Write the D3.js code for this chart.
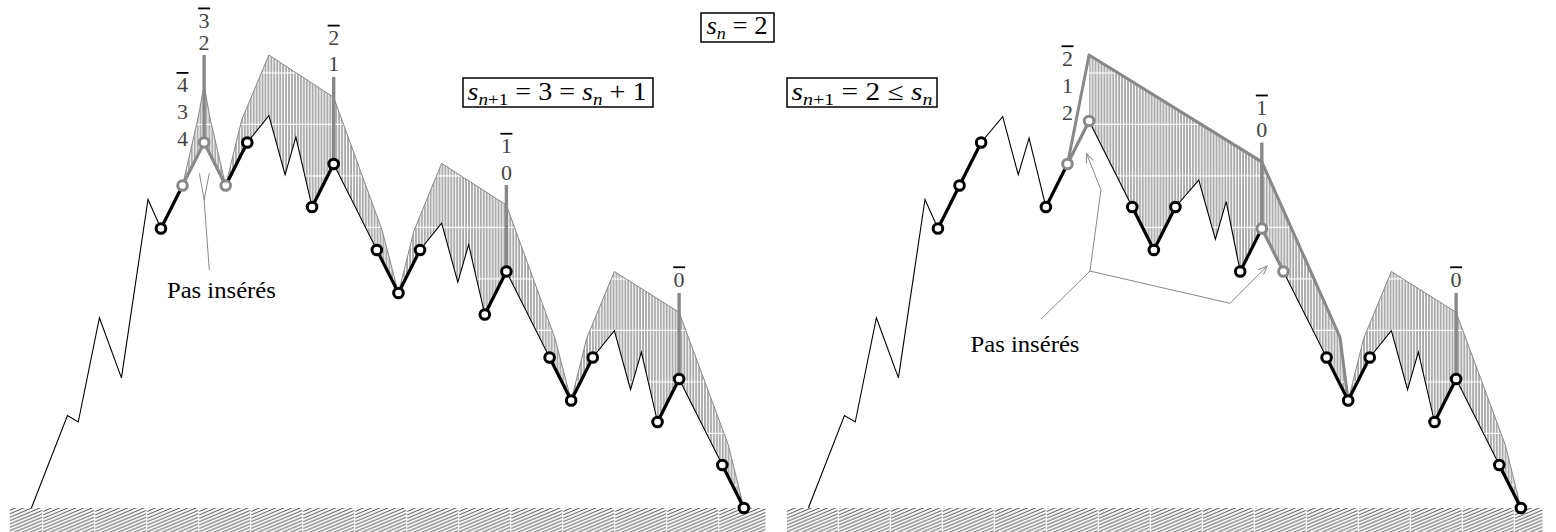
<!DOCTYPE html>
<html>
<head>
<meta charset="utf-8">
<script src="https://cdn.jsdelivr.net/npm/d3@7"></script>
<style>
  body { margin: 0; background: #fff; }
  svg { display: block; }
  svg text { font-family: "Liberation Serif", Tinos, "Times New Roman", "DejaVu Serif", serif; }
</style>
</head>
<body>
<div id="container"></div>
<script>
/* DATA : x in steps, y in levels above the floor */

// left panel : s_{n+1} = s_n + 1
const leftPath = [[0,0],[1.67,4.3],[2.17,4.0],[3.15,8.85],[4.17,6.05],[5.4,14.35],[6,13],[7,15],[8,17],[9,15],[10,17],
  [11,18.25],[11.75,15.5],[12.25,17.25],[13,14],[14,16],[16,12],[17,10],[18,12],[19,13.25],[19.75,10.5],[20.25,12.25],
  [21,9],[22,11],[24,7],[25,5],[26,7],[27,8.25],[27.75,5.5],[28.25,7.25],[29,4],[30,6],[32,2],[33,0]];
const leftEnvelope = [[7,15],[7.72,18.14],[8,19.67],[8.27,18.14],[9,15],[9.74,18.05],[11,21.07],[14,19.1],[16.25,12.9],
  [17,10],[17.72,12.9],[19,16.03],[22,14.09],[24.25,7.9],[25,5],[25.72,7.9],[27,11],[30,9.1],[32.28,2.93],[33,0]];
const leftBlackSteps = [[[6,13],[7,15]],[[9,15],[10,17]],[[13,14],[14,16]],[[16,12],[17,10],[18,12]],[[21,9],[22,11]],
  [[24,7],[25,5],[26,7]],[[29,4],[30,6]],[[32,2],[33,0]]];
const leftGreySteps = [[[7,15],[8,17],[9,15]]];
const leftBlackNodes = [[6,13],[10,17],[13,14],[14,16],[16,12],[17,10],[18,12],[21,9],[22,11],[24,7],[25,5],[26,7],
  [29,4],[30,6],[32,2],[33,0]];
const leftGreyNodes = [[7,15],[8,17],[9,15]];
const leftBars = [[8,17,21.07],[14,16,20.05],[22,11,15.02],[30,6,10]];
const leftLabels = [
  {x:8, y:22.33, t:"3", bar:true}, {x:8, y:21.3, t:"2"},
  {x:7, y:19.33, t:"4", bar:true}, {x:7, y:18.08, t:"3"}, {x:7, y:16.85, t:"4"},
  {x:14, y:21.53, t:"2", bar:true}, {x:14, y:20.34, t:"1"},
  {x:22, y:16.5, t:"1", bar:true}, {x:22, y:15.26, t:"0"},
  {x:30, y:10.29, t:"0", bar:true}];
const leftPointer = [[[8.24,11.07],[8,14.33],[7.78,15.57]],[[8,14.33],[8.24,15.57]]];
const leftNote = {x:8.8, y:9.77};

// right panel : s_{n+1} <= s_n
const rightPath = [[0,0],[1.67,4.3],[2.17,4.0],[3.15,8.85],[4.17,6.05],[5.4,14.35],[6,13],[7,15],[8,17],
  [9,18.2],[9.72,15.5],[10.22,17.2],[11,14],[12,16],[13,18],[15,14],[16,12],[17,14],[18.08,15.25],[18.85,12.5],
  [19.35,14.25],[20,11],[21,13],[22,11],[24,7],[25,5],[26,7],[27,8.25],[27.75,5.5],[28.25,7.25],[29,4],[30,6],[32,2],[33,0]];
const rightThickEnvelope = [[12,16],[13,21.07],[21,16.1],[24.62,7.95],[25,5]];
const rightEnvelope = [[25,5],[25.72,7.9],[27,11],[30,9.1],[32.28,2.93],[33,0]];
const rightBlackSteps = [[[6,13],[7,15],[8,17]],[[11,14],[12,16]],[[15,14],[16,12],[17,14]],[[20,11],[21,13]],
  [[24,7],[25,5],[26,7]],[[29,4],[30,6]],[[32,2],[33,0]]];
const rightGreySteps = [[[12,16],[13,18]],[[21,13],[22,11]]];
const rightBlackNodes = [[6,13],[7,15],[8,17],[11,14],[15,14],[16,12],[17,14],[20,11],[24,7],[25,5],[26,7],
  [29,4],[30,6],[32,2],[33,0]];
const rightGreyNodes = [[12,16],[13,18],[21,13],[22,11]];
const rightBars = [[21,13,17],[30,6,10]];
const rightLabels = [
  {x:12, y:20.57, t:"2", bar:true}, {x:12, y:19.3, t:"1"}, {x:12, y:18.05, t:"2"},
  {x:21, y:18.28, t:"1", bar:true}, {x:21, y:17.26, t:"0"},
  {x:30, y:10.29, t:"0", bar:true}];
const rightArrows = [[[10.77,8.78],[13.04,11.02],[13.55,14.79],[12.88,16.49]],[[13.04,11.02],[19.53,9.52],[21.25,11.26]]];
const rightNote = {x:10.03, y:7.26};

const floorSpan = [-1, 34];

/* CONSTANTS */
const width = 1556, height = 532;
const grey = "#888";
const serif = "Liberation Serif";

const x = d3.scaleLinear().domain([0, 33]).range([0, 712.5]);
const y = d3.scaleLinear().domain([0, 22]).range([508, 35]);
const line = d3.line().x(d => x(d[0])).y(d => y(d[1]));

const svg = d3.select("#container").append("svg")
  .attr("width", width).attr("height", height);

const defs = svg.append("defs");

// vertical hatch (between envelope and path)
const vh = defs.append("pattern").attr("id", "vhatch")
  .attr("patternUnits", "userSpaceOnUse")
  .attr("x", 0).attr("y", 22).attr("width", 2.95).attr("height", 51.5);
vh.append("line").attr("x1", 1).attr("x2", 1).attr("y1", 0).attr("y2", 50.3)
  .attr("stroke", "#4a4a4a").attr("stroke-width", 0.9);

// floor hatch, one per panel for the tile phase
function floorPattern(id, x0) {
  const p = defs.append("pattern").attr("id", id)
    .attr("patternUnits", "userSpaceOnUse")
    .attr("x", x0).attr("y", 508).attr("width", 52).attr("height", 27.2);
  d3.range(-2, 17).forEach(k => {
    const c = k * 3.4;
    p.append("line").attr("x1", 0).attr("y1", c).attr("x2", 51).attr("y2", c - 0.42 * 51)
      .attr("stroke", "#333").attr("stroke-width", 0.9);
  });
}
floorPattern("floorL", -40.2);
floorPattern("floorR", -21.6);

defs.append("marker").attr("id", "arrow")
  .attr("viewBox", "-10 -6 12 12").attr("refX", 0).attr("refY", 0)
  .attr("markerWidth", 12).attr("markerHeight", 12)
  .attr("markerUnits", "userSpaceOnUse").attr("orient", "auto")
  .append("path").attr("d", "M-9,-3.6L0,0L-9,3.6")
  .attr("fill", "none").attr("stroke", grey).attr("stroke-width", 1);

// region between an envelope and the path below it
function hatchArea(env, path) {
  const x0 = env[0][0], x1 = env[env.length - 1][0];
  const below = path.filter(d => d[0] >= x0 && d[0] <= x1).reverse();
  return env.concat(below);
}

function drawPanel(p) {
  const g = svg.append("g").attr("transform", `translate(${p.x0},0)`);

  // floor
  g.append("rect")
    .attr("x", x(floorSpan[0])).attr("y", y(0))
    .attr("width", x(floorSpan[1]) - x(floorSpan[0])).attr("height", height - y(0) + 2)
    .attr("fill", `url(#${p.floor})`);

  // hatched areas
  g.selectAll(".hatch").data(p.hatches).join("path")
    .attr("class", "hatch")
    .attr("d", d => line(hatchArea(d, p.path)) + "Z")
    .attr("fill", "url(#vhatch)");

  // envelopes
  g.selectAll(".env").data(p.envelopes).join("path")
    .attr("class", "env")
    .attr("d", d => line(d.pts))
    .attr("fill", "none").attr("stroke", grey)
    .attr("stroke-width", d => d.thick ? 3 : 1)
    .attr("stroke-linejoin", "round");

  // grey bars
  g.selectAll(".bar").data(p.bars).join("line")
    .attr("class", "bar")
    .attr("x1", d => x(d[0])).attr("x2", d => x(d[0]))
    .attr("y1", d => y(d[1])).attr("y2", d => y(d[2]))
    .attr("stroke", grey).attr("stroke-width", 3.4);

  // path
  g.append("path").attr("d", line(p.path))
    .attr("fill", "none").attr("stroke", "#000").attr("stroke-width", 1.1)
    .attr("stroke-linejoin", "miter");

  g.selectAll(".bstep").data(p.blackSteps).join("path")
    .attr("class", "bstep").attr("d", line)
    .attr("fill", "none").attr("stroke", "#000").attr("stroke-width", 3.2);
  g.selectAll(".gstep").data(p.greySteps).join("path")
    .attr("class", "gstep").attr("d", line)
    .attr("fill", "none").attr("stroke", grey).attr("stroke-width", 3.2);

  // pointers
  g.selectAll(".ptr").data(p.pointers).join("path")
    .attr("class", "ptr").attr("d", line)
    .attr("fill", "none").attr("stroke", grey).attr("stroke-width", 1)
    .attr("marker-end", p.arrows ? "url(#arrow)" : null);

  // nodes
  g.selectAll(".bnode").data(p.blackNodes).join("circle")
    .attr("class", "bnode")
    .attr("cx", d => x(d[0])).attr("cy", d => y(d[1])).attr("r", 4.8)
    .attr("fill", "#fff").attr("stroke", "#000").attr("stroke-width", 3);
  g.selectAll(".gnode").data(p.greyNodes).join("circle")
    .attr("class", "gnode")
    .attr("cx", d => x(d[0])).attr("cy", d => y(d[1])).attr("r", 4.8)
    .attr("fill", "#fff").attr("stroke", grey).attr("stroke-width", 3);

  // labels
  const lab = g.selectAll(".lab").data(p.labels).join("g").attr("class", "lab");
  lab.append("text")
    .attr("x", d => x(d.x)).attr("y", d => y(d.y))
    .attr("text-anchor", "middle").attr("font-size", 22)
    .attr("font-family", serif).attr("fill", "#444")
    .text(d => d.t);
  lab.filter(d => d.bar).append("line")
    .attr("x1", d => x(d.x) - 6).attr("x2", d => x(d.x) + 6)
    .attr("y1", d => y(d.y) - 19.5).attr("y2", d => y(d.y) - 19.5)
    .attr("stroke", "#000").attr("stroke-width", 1.8);

  g.append("text")
    .attr("x", x(p.note.x)).attr("y", y(p.note.y))
    .attr("text-anchor", "middle").attr("font-size", 24).attr("font-family", serif)
    .attr("textLength", 109).attr("lengthAdjust", "spacingAndGlyphs")
    .text("Pas insérés");
}

drawPanel({
  x0: 31.4, floor: "floorL", path: leftPath,
  hatches: [leftEnvelope],
  envelopes: [{pts: leftEnvelope, thick: false}],
  bars: leftBars, blackSteps: leftBlackSteps, greySteps: leftGreySteps,
  blackNodes: leftBlackNodes, greyNodes: leftGreyNodes,
  labels: leftLabels, pointers: leftPointer, arrows: false, note: leftNote
});

drawPanel({
  x0: 808.4, floor: "floorR", path: rightPath,
  hatches: [rightThickEnvelope.slice(1), rightEnvelope],
  envelopes: [{pts: rightEnvelope, thick: false}, {pts: rightThickEnvelope, thick: true}],
  bars: rightBars, blackSteps: rightBlackSteps, greySteps: rightGreySteps,
  blackNodes: rightBlackNodes, greyNodes: rightGreyNodes,
  labels: rightLabels, pointers: rightArrows, arrows: true, note: rightNote
});

/* BOXED FORMULAS */
const formulas = [
  {box: [701, 13, 73, 29], tx: 706.5, ty: 33.5, len: 61,
   parts: [{t:"s", i:1}, {t:"n", i:1, sub:1}, {t:" = 2"}]},
  {box: [463, 78, 190, 29], tx: 467.5, ty: 99.5, len: 179,
   parts: [{t:"s", i:1}, {t:"n", i:1, sub:1}, {t:"+1", sub:1}, {t:" = 3 = "}, {t:"s", i:1}, {t:"n", i:1, sub:1}, {t:" + 1"}]},
  {box: [787, 78, 150, 29], tx: 791.5, ty: 99.5, len: 141,
   parts: [{t:"s", i:1}, {t:"n", i:1, sub:1}, {t:"+1", sub:1}, {t:" = 2 ≤ "}, {t:"s", i:1}, {t:"n", i:1, sub:1}]}
];

formulas.forEach(f => {
  svg.append("rect")
    .attr("x", f.box[0]).attr("y", f.box[1]).attr("width", f.box[2]).attr("height", f.box[3])
    .attr("fill", "none").attr("stroke", "#000").attr("stroke-width", 1.5);
  const t = svg.append("text").attr("x", f.tx).attr("y", f.ty)
    .attr("font-size", 25).attr("font-family", serif)
    .attr("xml:space", "preserve").style("white-space", "pre");
  let lowered = false;
  f.parts.forEach(pt => {
    const sub = !!pt.sub;
    t.append("tspan")
      .attr("dy", sub === lowered ? 0 : (sub ? 5 : -5))
      .attr("font-size", sub ? 17 : 25)
      .attr("font-style", pt.i ? "italic" : "normal")
      .text(pt.t);
    lowered = sub;
  });
  t.attr("textLength", f.len).attr("lengthAdjust", "spacingAndGlyphs");
});
</script>
</body>
</html>
